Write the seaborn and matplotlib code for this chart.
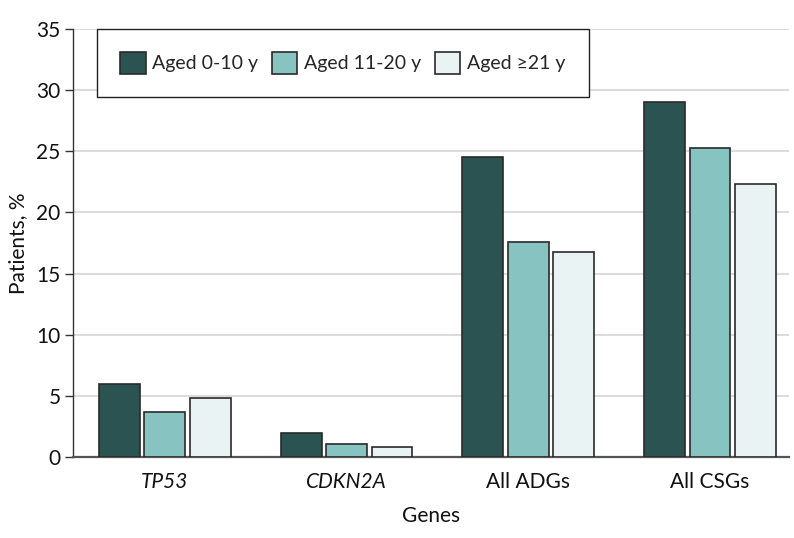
import matplotlib
matplotlib.use("Agg")
import matplotlib.pyplot as plt
import seaborn as sns
import pandas as pd

genes = ["TP53", "CDKN2A", "All ADGs", "All CSGs"]
groups = ["Aged 0-10 y", "Aged 11-20 y", "Aged \u226521 y"]
aged_0_10 = [5.95, 1.95, 24.5, 29.05]
aged_11_20 = [3.7, 1.1, 17.55, 25.3]
aged_21_plus = [4.85, 0.8, 16.75, 22.35]
yticks = [0, 5, 10, 15, 20, 25, 30, 35]

rows = []
for g, vals in zip(groups, [aged_0_10, aged_11_20, aged_21_plus]):
    for gene, v in zip(genes, vals):
        rows.append({"Gene": gene, "Group": g, "Value": v})
df = pd.DataFrame(rows)

sns.set_theme(style="white")
plt.rcParams["font.family"] = ["Lato", "DejaVu Sans"]

colors = ["#2b5352", "#86c3c1", "#e9f3f4"]
FS = 15
LFS = 14

fig = plt.figure(figsize=(7.94, 5.38), dpi=100)
ax = fig.add_axes([73 / 794, 1 - 457 / 538, (789 - 73) / 794, (457 - 29) / 538])

sns.barplot(data=df, x="Gene", y="Value", hue="Group", order=genes, hue_order=groups,
            palette=colors, saturation=1, width=0.75, gap=0.1, edgecolor="#2a2a2a",
            linewidth=1.2, errorbar=None, ax=ax, zorder=3)

ax.set_ylim(0, 35)
ax.set_xlim(-0.506, 3.435)
ax.set_yticks(yticks)
ax.yaxis.grid(True, color="#d9d9d9", linewidth=1.3, zorder=0)
ax.set_axisbelow(True)
for s in ["top", "right"]:
    ax.spines[s].set_visible(False)
ax.spines["left"].set_color("#333333")
ax.spines["left"].set_linewidth(1.0)
ax.spines["bottom"].set_color("#555555")
ax.spines["bottom"].set_linewidth(1.6)

ax.tick_params(axis="y", which="both", left=True, length=6, width=1, color="#333333",
               labelsize=FS, labelcolor="#111111", pad=3)
ax.tick_params(axis="x", bottom=False, labelsize=FS, labelcolor="#111111", pad=5)
for lbl in ax.get_xticklabels():
    if lbl.get_text() in ("TP53", "CDKN2A"):
        lbl.set_style("italic")

ax.set_xlabel("Genes", fontsize=FS, color="#111111", labelpad=10)
ax.set_ylabel("Patients, %", fontsize=FS, color="#111111", labelpad=6)

leg = ax.legend(loc="upper left", bbox_to_anchor=(24 / 716, 1.0), ncol=3, frameon=True,
                fontsize=LFS, handlelength=1.3, handleheight=1.3, handletextpad=0.35,
                columnspacing=0.7, borderpad=1.2, fancybox=False, borderaxespad=0)
leg.get_frame().set_edgecolor("#222222")
leg.get_frame().set_linewidth(1.0)
leg.get_frame().set_facecolor("white")
leg.get_frame().set_alpha(1)
leg.set_zorder(5)

fig.savefig("out.png", dpi=100)
